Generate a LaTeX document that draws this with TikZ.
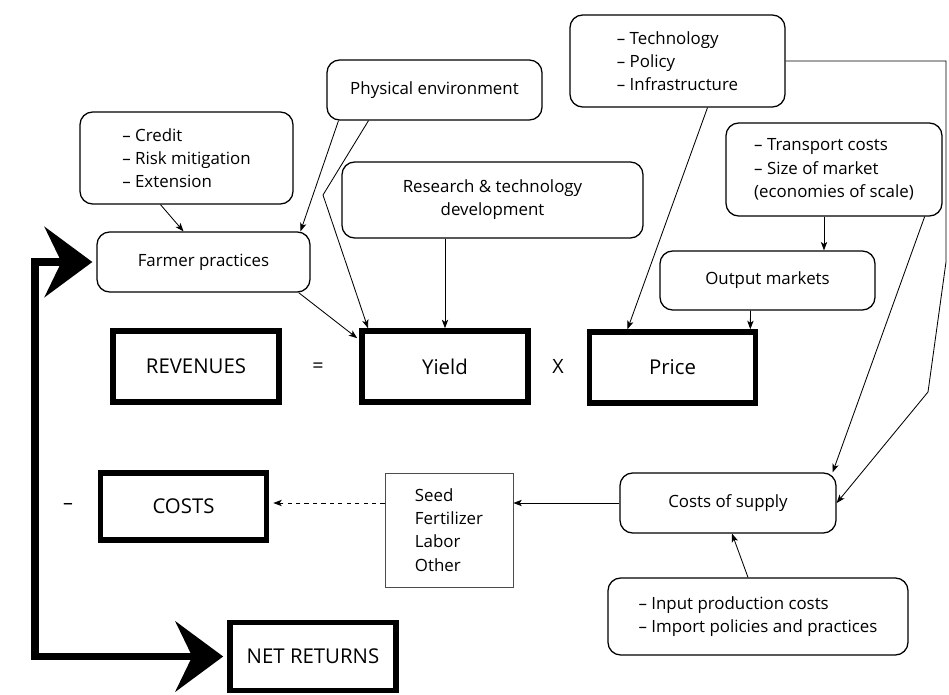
\documentclass[tikz,border=0pt]{standalone}
\usepackage{fontspec}
\setmainfont{Open Sans}
\usetikzlibrary{arrows.meta,calc}
\newdimen\px \px=0.025cm
\tikzstyle{softbox} = [draw, rounded corners=9pt, line width=0.9pt, align=left, font=\fontsize{12}{16.5}\selectfont]
\tikzstyle{termbox} = [draw, line width=4pt, font=\fontsize{14.5}{16.5}\selectfont, minimum width=166\px, minimum height=71\px]
\tikzstyle{listbox} = [draw=black!70, line width=0.5pt, align=left, font=\fontsize{12}{16.5}\selectfont]
\tikzstyle{link} = [-{Stealth[length=6pt,width=4.5pt,inset=1.5pt]}, line width=0.6pt]
\tikzstyle{returnarrow} = [{Stealth[length=34pt,width=50pt,inset=12pt]}-{Stealth[length=34pt,width=50pt,inset=12pt]}, line width=5pt]

\begin{document}
\begin{tikzpicture}[x=0.025cm, y=-0.025cm]
	\useasboundingbox[fill=white] (0,0) rectangle (949,695);
	\node[softbox, minimum width=215\px, minimum height=92\px] (tech) at (677.5,61) {– Technology\\– Policy\\– Infrastructure};
	\node[softbox, minimum width=215\px, minimum height=60\px] (physenv) at (434.5,90) {Physical environment};
	\node[softbox, minimum width=213\px, minimum height=92\px] (credit) at (186.5,158) {– Credit\\– Risk mitigation\\– Extension};
	\node[softbox, align=center, minimum width=301\px, minimum height=76\px] (research) at (492.5,200) {Research \& technology\\development};
	\node[softbox, minimum width=216\px, minimum height=93\px] (transport) at (834,169.5) {– Transport costs\\– Size of market\\(economies of scale)};
	\node[softbox, minimum width=213\px, minimum height=60\px] (farmer) at (203.5,262) {Farmer practices};
	\node[softbox, minimum width=215\px, minimum height=59\px] (output) at (767.5,280.5) {Output markets};

	\node[termbox] (revenues) at (196,366.5) {REVENUES};
	\node (eqsign) at (318,368) {\fontsize{14}{14}\selectfont =};
	\node[termbox] (yield) at (445,366.5) {Yield};
	\node (times) at (558,366) {\fontsize{14}{14}\selectfont X};
	\node[termbox] (price) at (672.5,367.5) {Price};

	\node (minus) at (68,506) {\fontsize{14}{14}\selectfont –};
	\node[termbox, minimum height=67\px] (costs) at (183.5,506.5) {COSTS};
	\node[listbox, minimum width=128\px, minimum height=114\px] (inputs) at (449,530) {Seed\\Fertilizer\\Labor\\Other};
	\node[softbox, minimum width=216\px, minimum height=60\px] (supply) at (728,503) {Costs of supply};
	\node[softbox, minimum width=300\px, minimum height=77\px] (inputcost) at (758,616.5) {– Input production costs\\– Import policies and practices};
	\node[termbox, minimum height=68\px] (netret) at (313,656.5) {NET RETURNS};

	\coordinate (kink) at (323,195);
	\coordinate (loopx) at (35,0);
	\coordinate (rc1) at (946,57);
	\coordinate (rc2) at (946,262);
	\coordinate (rc3) at (928,392);
	\coordinate (tpo) at ($(transport.south)+(-10,0)$);

	\draw[link] ($(credit.south)+(-26,0)$) -- ($(farmer.north)+(-20,0)$);
	\draw[link] ($(physenv.south)+(-96,0)$) -- ($(farmer.north)+(97,0)$);
	\draw[link] ($(physenv.south)+(-66,0)$) -- (kink) -- ($(yield.north)+(-77,0)$);
	\draw[link] (yield.north |- research.south) -- (yield.north);
	\draw[link] ($(farmer.south east)+(-12,0)$) -- ($(yield.north west)+(-2,10)$);
	\draw[link] ($(tech.south)+(30,0)$) -- ($(price.north)+(-45,0)$);
	\draw[link] (tpo) -- (tpo |- output.north);
	\draw[link] ($(output.south)+(-17,0)$) -- ($(price.north east)+(-8,0)$);
	\draw[link] ($(transport.south east)+(-18,0)$) -- ($(supply.north east)+(-4,0)$);
	\draw[link] (tech.east) -- (tech.east -| rc1) -- (rc2) -- (rc3) -- (supply.east);
	\draw[link] (supply.west) -- (inputs.east |- supply.west);
	\draw[link, dashed] (inputs.west |- supply.west) -- ($(costs.east |- supply.west)+(4,0)$);
	\draw[link] ($(inputcost.north)+(-10,0)$) -- ($(supply.south)+(4,0)$);
	\draw[returnarrow] ($(farmer.west)+(-4,0)$) -- (farmer.west -| loopx) -- (netret.west -| loopx) -- ($(netret.west)+(-4,0)$);
\end{tikzpicture}
\end{document}
